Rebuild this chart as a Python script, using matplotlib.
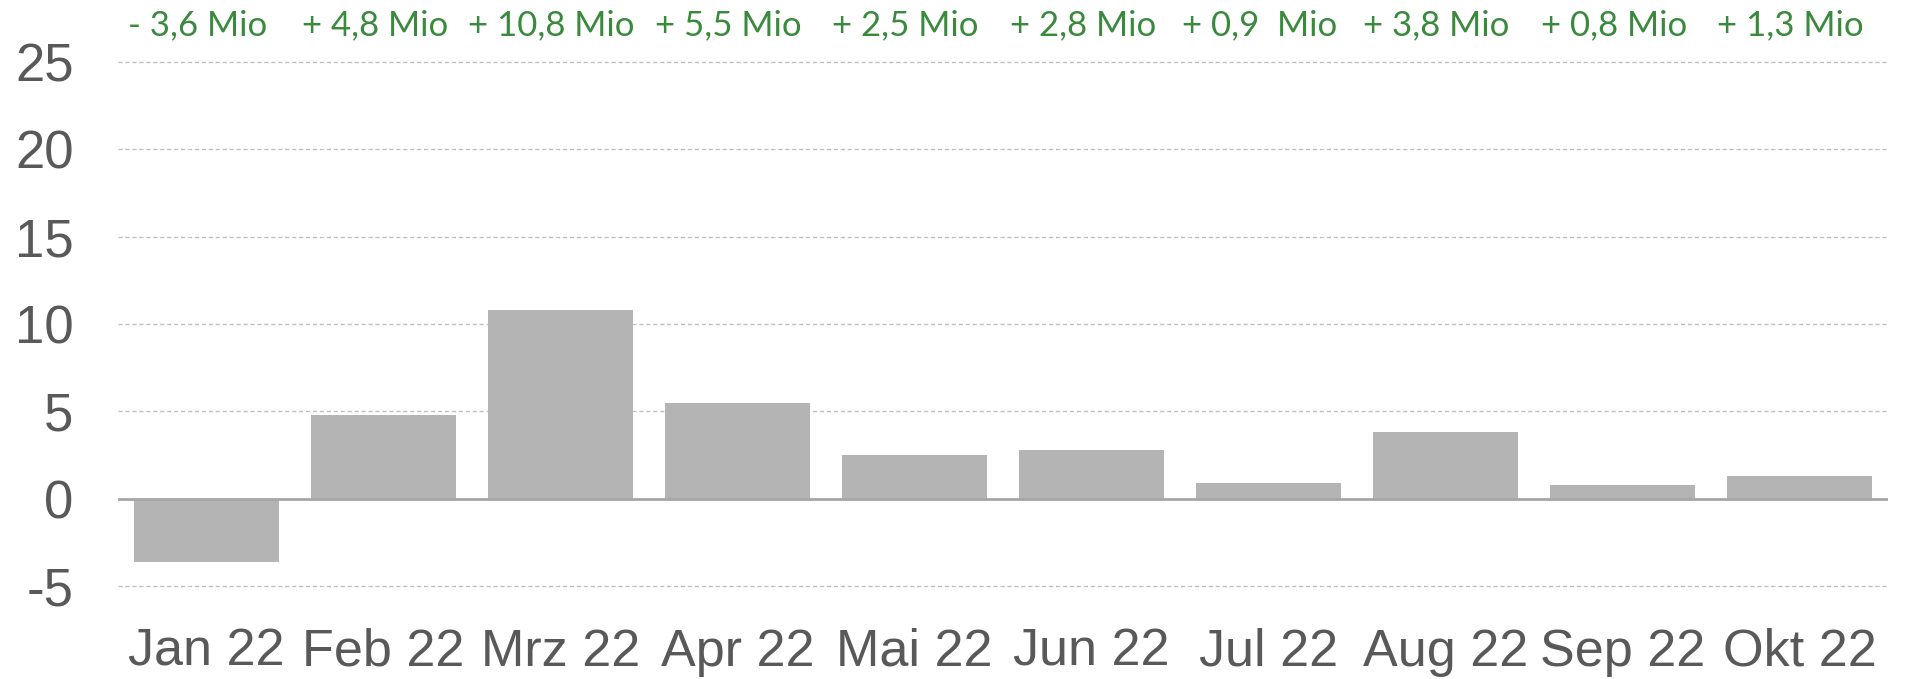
import matplotlib
matplotlib.use("Agg")
import matplotlib.pyplot as plt
import numpy as np

months = ["Jan 22", "Feb 22", "Mrz 22", "Apr 22", "Mai 22", "Jun 22",
          "Jul 22", "Aug 22", "Sep 22", "Okt 22"]
values = [-3.6, 4.8, 10.8, 5.5, 2.5, 2.8, 0.9, 3.8, 0.8, 1.3]
change_labels = ["- 3,6 Mio", "+ 4,8 Mio", "+ 10,8 Mio", "+ 5,5 Mio", "+ 2,5 Mio",
                 "+ 2,8 Mio", "+ 0,9  Mio", "+ 3,8 Mio", "+ 0,8 Mio", "+ 1,3 Mio"]
yticks = [-5, 0, 5, 10, 15, 20, 25]

fig = plt.figure(figsize=(19.1, 6.79), dpi=100)
ax = fig.add_axes([0.0618, 0.137, 0.9267, 0.7717])

x = np.arange(len(months))
ax.bar(x, values, width=0.82, color="#B4B4B4", zorder=3)
ax.set_xlim(-0.5, len(months) - 0.5)
ax.set_ylim(-5, 25)
ax.set_yticks(yticks)
ax.set_yticklabels([str(t) for t in yticks])
for t in yticks:
    if t == 0:
        continue
    ax.axhline(t, color="#BFBFBF", lw=1.0, ls=(0, (3, 2)), zorder=1, clip_on=False)
ax.axhline(0, color="#A6A6A6", lw=2.0, zorder=4)

for s in ax.spines.values():
    s.set_visible(False)
ax.tick_params(axis="both", length=0, colors="#595959")
ax.tick_params(axis="y", labelsize=38, pad=32)
ax.tick_params(axis="x", labelsize=37.5, pad=30)
ax.set_xticks(x)
ax.set_xticklabels(months)
for lab in ax.get_xticklabels() + ax.get_yticklabels():
    lab.set_fontfamily("Liberation Sans")

for xi, lab in zip(x, change_labels):
    ax.text(xi - 0.05, 1.0 + 0.070, lab, transform=ax.get_xaxis_transform(),
            ha="center", va="center", fontsize=25, color="#3A8A3D",
            fontfamily="Lato")

fig.savefig("out.png", dpi=100)
